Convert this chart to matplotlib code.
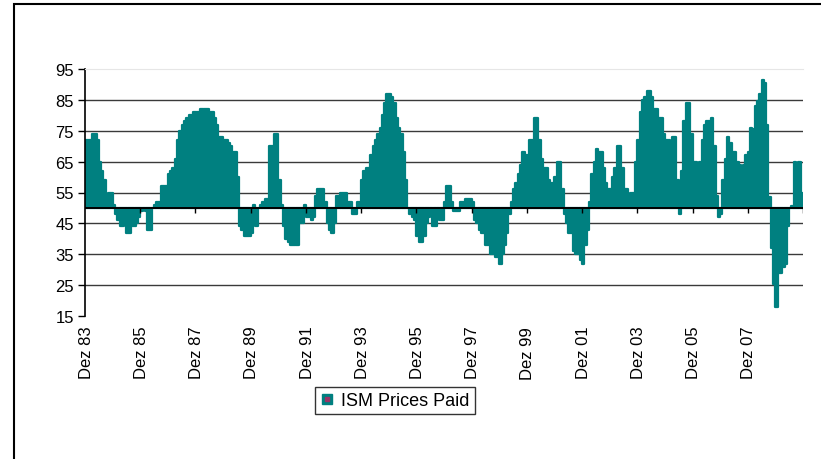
import matplotlib
matplotlib.use("Agg")
import matplotlib.pyplot as plt
import numpy as np
from matplotlib.lines import Line2D
from matplotlib.patches import Rectangle
from matplotlib.legend_handler import HandlerTuple

plt.rcParams['font.family'] = ['Liberation Sans', 'DejaVu Sans']

# ISM Prices Paid, monatlich ab Dez 83
y1983 = [72]
y1984 = [72, 72, 74, 74, 72, 65, 62, 59, 54, 55, 55, 51]
y1985 = [48, 46, 44, 44, 45, 42, 42, 44, 44, 45, 47, 49]
y1986 = [50, 49, 43, 43, 50, 51, 52, 52, 57, 57, 57, 61]
y1987 = [62, 63, 66, 72, 75, 77, 78, 79, 80, 80, 81, 81]
y1988 = [81, 82, 82, 82, 82, 81, 81, 79, 77, 73, 73, 72]
y1989 = [72, 71, 70, 68, 68, 60, 44, 43, 41, 41, 41, 42]
y1990 = [51, 44, 50, 51, 52, 53, 53, 70, 70, 74, 74, 59]
y1991 = [51, 44, 40, 39, 38, 38, 38, 38, 45, 45, 51, 47]
y1992 = [47, 46, 47, 54, 56, 56, 56, 52, 45, 43, 42, 45]
y1993 = [54, 54, 55, 55, 55, 52, 52, 48, 48, 52, 52, 59]
y1994 = [62, 63, 63, 67, 70, 72, 74, 76, 80, 84, 87, 87]
y1995 = [86, 84, 79, 76, 74, 68, 59, 50, 48, 47, 46, 41]
y1996 = [39, 39, 41, 45, 47, 50, 44, 44, 50, 46, 46, 52]
y1997 = [57, 57, 52, 49, 49, 49, 52, 52, 53, 53, 53, 52]
y1998 = [46, 45, 43, 42, 42, 38, 38, 35, 35, 34, 34, 32]
y1999 = [35, 38, 42, 48, 52, 56, 58, 61, 64, 68, 67, 67]
y2000 = [72, 72, 79, 79, 72, 66, 63, 63, 59, 58, 58, 60]
y2001 = [65, 65, 56, 48, 45, 42, 42, 36, 35, 35, 33, 32]
y2002 = [38, 43, 52, 61, 65, 69, 68, 68, 63, 58, 56, 56]
y2003 = [60, 63, 70, 70, 63, 56, 56, 54, 55, 55, 65, 72]
y2004 = [81, 85, 86, 88, 88, 86, 82, 82, 79, 79, 74, 72]
y2005 = [72, 62, 73, 73, 59, 48, 62, 78, 84, 84, 74, 65]
y2006 = [65, 62, 65, 72, 77, 78, 78, 79, 70, 54, 47, 48]
y2007 = [59, 66, 73, 71, 68, 68, 65, 64, 63, 64, 67, 68]
y2008 = [76, 75.5, 83, 84.5, 87, 91.5, 90.5, 77, 53.5, 37, 25.5, 18]
y2009 = [29, 29, 31, 32, 44, 50, 50.5, 65, 63.5, 65, 55]

prices_paid = np.array(y1983 + y1984 + y1985 + y1986 + y1987 + y1988 + y1989
                       + y1990 + y1991 + y1992 + y1993 + y1994 + y1995 + y1996
                       + y1997 + y1998 + y1999 + y2000 + y2001 + y2002 + y2003
                       + y2004 + y2005 + y2006 + y2007 + y2008 + y2009)
tick_labels = ['Dez 83', 'Dez 85', 'Dez 87', 'Dez 89', 'Dez 91', 'Dez 93', 'Dez 95',
               'Dez 97', 'Dez 99', 'Dez 01', 'Dez 03', 'Dez 05', 'Dez 07']
baseline = 50
teal = '#008080'

fig = plt.figure(figsize=(8.21, 4.60), dpi=100)
ax = fig.add_axes([85 / 821, 1 - 317 / 460, 718 / 821, 247 / 460])

x = np.arange(len(prices_paid))
ax.bar(x, prices_paid - baseline, bottom=baseline, width=1.0, color=teal,
       edgecolor=teal, linewidth=1.6, joinstyle='round', zorder=2)

ax.set_xlim(-0.5, len(prices_paid) - 0.5)
ax.set_ylim(15, 95)

for level in range(25, 90, 10):
    ax.axhline(level, color='#3a3a3a', lw=1.0, zorder=1)

# Rubrikenachse bei 50, Teilstriche alle 24 Monate
ax.axhline(baseline, color='black', lw=1.4, zorder=3)
bounds = np.arange(24, len(prices_paid) + 1, 24) - 0.5
ax.vlines(bounds, baseline - 1.6, baseline, color='black', lw=1.0, zorder=3)

ax.set_xticks(x[::24][:len(tick_labels)])
ax.set_xticklabels(tick_labels, rotation=90, fontsize=12)
ax.tick_params(axis='x', length=0, pad=7)

ax.set_yticks(range(15, 96, 10))
ax.tick_params(axis='y', direction='out', length=5, width=1, labelsize=12, pad=3)

for side in ('right', 'bottom'):
    ax.spines[side].set_visible(False)
ax.spines['top'].set_color('#e6e6e6')
ax.spines['left'].set_linewidth(1.2)

handle = (Line2D([], [], marker='s', markersize=7.5, color=teal, linestyle='none'),
          Line2D([], [], marker='s', markersize=3, color='#993366', linestyle='none'))
leg = fig.legend([handle], ['ISM Prices Paid'], loc='center',
                 bbox_to_anchor=(395 / 821, 1 - 401.5 / 460), fontsize=13,
                 frameon=True, fancybox=False, edgecolor='black',
                 handlelength=0.7, handletextpad=0.4, borderpad=0.3,
                 borderaxespad=0, handler_map={tuple: HandlerTuple(ndivide=1)})
leg.get_frame().set_linewidth(1.0)

fig.add_artist(Rectangle((14 / 821, -0.5), 2, 1.5 - 5 / 460, transform=fig.transFigure,
                         fill=False, edgecolor='black', lw=1.5))

fig.savefig('out.png', dpi=100)
